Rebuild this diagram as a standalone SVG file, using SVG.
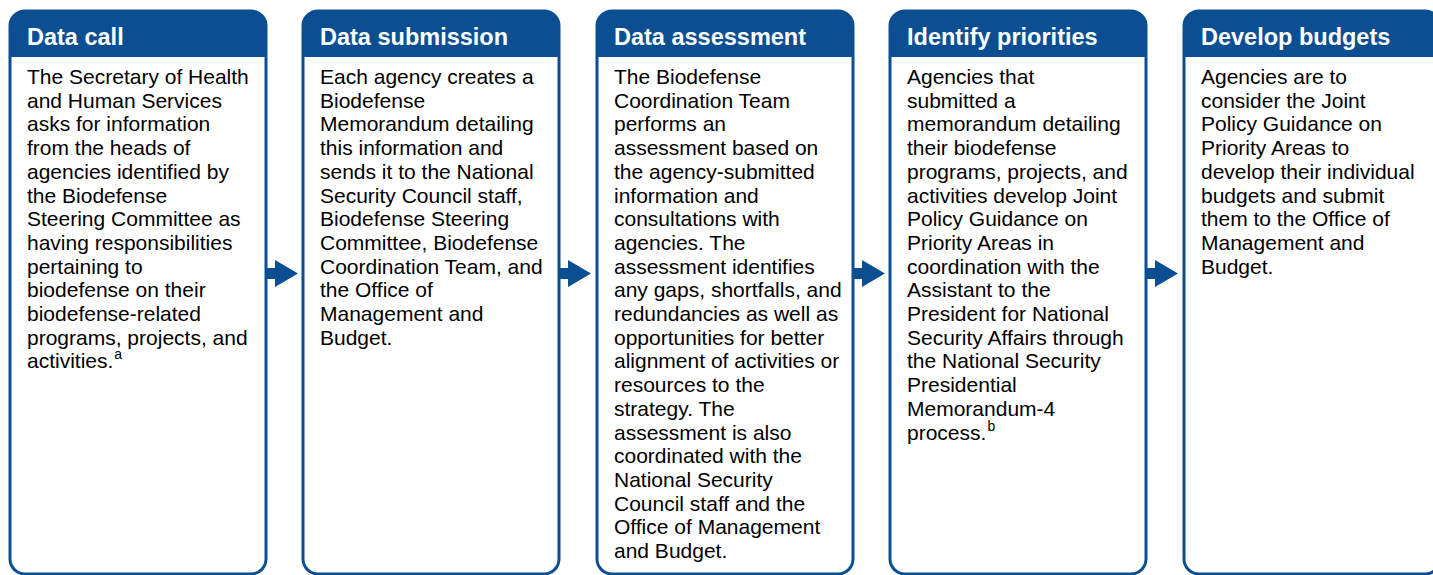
<svg xmlns="http://www.w3.org/2000/svg" width="1433" height="575" viewBox="0 0 1433 575">
<defs>
<style>
.box{fill:#ffffff;stroke:#0b4f92;stroke-width:3}
.hdr{fill:#0b4f92}
.ht{font-family:"Liberation Sans",Arial,sans-serif;font-weight:bold;font-size:23.5px;fill:#ffffff}
.bt{font-family:"Liberation Sans",Arial,sans-serif;font-size:21px;fill:#000000}
.sup{font-size:14px}
.arr{fill:#0b4f92}
</style>
</defs>
<rect width="1433" height="575" fill="#ffffff"/>
<g id="node1">
<rect class="box" x="10" y="11" width="256" height="563" rx="15"/>
<path class="hdr" d="M10,57 V26 A15,15 0 0 1 25,11 H251 A15,15 0 0 1 266,26 V57 Z"/>
<text class="ht" x="27" y="45">Data call</text>
<text class="bt" x="27" y="84"><tspan x="27">The Secretary of Health</tspan><tspan x="27" dy="23.7">and Human Services</tspan><tspan x="27" dy="23.7">asks for information</tspan><tspan x="27" dy="23.7">from the heads of</tspan><tspan x="27" dy="23.7">agencies identified by</tspan><tspan x="27" dy="23.7">the Biodefense</tspan><tspan x="27" dy="23.7">Steering Committee as</tspan><tspan x="27" dy="23.7">having responsibilities</tspan><tspan x="27" dy="23.7">pertaining to</tspan><tspan x="27" dy="23.7">biodefense on their</tspan><tspan x="27" dy="23.7">biodefense-related</tspan><tspan x="27" dy="23.7">programs, projects, and</tspan><tspan x="27" dy="23.7">activities.</tspan><tspan class="sup" dx="1" dy="-9">a</tspan></text>
</g>
<g id="node2">
<rect class="box" x="303" y="11" width="256" height="563" rx="15"/>
<path class="hdr" d="M303,57 V26 A15,15 0 0 1 318,11 H544 A15,15 0 0 1 559,26 V57 Z"/>
<text class="ht" x="320" y="45">Data submission</text>
<text class="bt" x="320" y="84"><tspan x="320">Each agency creates a</tspan><tspan x="320" dy="23.7">Biodefense</tspan><tspan x="320" dy="23.7">Memorandum detailing</tspan><tspan x="320" dy="23.7">this information and</tspan><tspan x="320" dy="23.7">sends it to the National</tspan><tspan x="320" dy="23.7">Security Council staff,</tspan><tspan x="320" dy="23.7">Biodefense Steering</tspan><tspan x="320" dy="23.7">Committee, Biodefense</tspan><tspan x="320" dy="23.7">Coordination Team, and</tspan><tspan x="320" dy="23.7">the Office of</tspan><tspan x="320" dy="23.7">Management and</tspan><tspan x="320" dy="23.7">Budget.</tspan></text>
</g>
<g id="node3">
<rect class="box" x="597" y="11" width="256" height="563" rx="15"/>
<path class="hdr" d="M597,57 V26 A15,15 0 0 1 612,11 H838 A15,15 0 0 1 853,26 V57 Z"/>
<text class="ht" x="614" y="45">Data assessment</text>
<text class="bt" x="614" y="84"><tspan x="614">The Biodefense</tspan><tspan x="614" dy="23.7">Coordination Team</tspan><tspan x="614" dy="23.7">performs an</tspan><tspan x="614" dy="23.7">assessment based on</tspan><tspan x="614" dy="23.7">the agency-submitted</tspan><tspan x="614" dy="23.7">information and</tspan><tspan x="614" dy="23.7">consultations with</tspan><tspan x="614" dy="23.7">agencies. The</tspan><tspan x="614" dy="23.7">assessment identifies</tspan><tspan x="614" dy="23.7">any gaps, shortfalls, and</tspan><tspan x="614" dy="23.7">redundancies as well as</tspan><tspan x="614" dy="23.7">opportunities for better</tspan><tspan x="614" dy="23.7">alignment of activities or</tspan><tspan x="614" dy="23.7">resources to the</tspan><tspan x="614" dy="23.7">strategy. The</tspan><tspan x="614" dy="23.7">assessment is also</tspan><tspan x="614" dy="23.7">coordinated with the</tspan><tspan x="614" dy="23.7">National Security</tspan><tspan x="614" dy="23.7">Council staff and the</tspan><tspan x="614" dy="23.7">Office of Management</tspan><tspan x="614" dy="23.7">and Budget.</tspan></text>
</g>
<g id="node4">
<rect class="box" x="890" y="11" width="256" height="563" rx="15"/>
<path class="hdr" d="M890,57 V26 A15,15 0 0 1 905,11 H1131 A15,15 0 0 1 1146,26 V57 Z"/>
<text class="ht" x="907" y="45">Identify priorities</text>
<text class="bt" x="907" y="84"><tspan x="907">Agencies that</tspan><tspan x="907" dy="23.7">submitted a</tspan><tspan x="907" dy="23.7">memorandum detailing</tspan><tspan x="907" dy="23.7">their biodefense</tspan><tspan x="907" dy="23.7">programs, projects, and</tspan><tspan x="907" dy="23.7">activities develop Joint</tspan><tspan x="907" dy="23.7">Policy Guidance on</tspan><tspan x="907" dy="23.7">Priority Areas in</tspan><tspan x="907" dy="23.7">coordination with the</tspan><tspan x="907" dy="23.7">Assistant to the</tspan><tspan x="907" dy="23.7">President for National</tspan><tspan x="907" dy="23.7">Security Affairs through</tspan><tspan x="907" dy="23.7">the National Security</tspan><tspan x="907" dy="23.7">Presidential</tspan><tspan x="907" dy="23.7">Memorandum-4</tspan><tspan x="907" dy="23.7">process.</tspan><tspan class="sup" dx="1" dy="-9">b</tspan></text>
</g>
<g id="node5">
<rect class="box" x="1184" y="11" width="256" height="563" rx="15"/>
<path class="hdr" d="M1184,57 V26 A15,15 0 0 1 1199,11 H1425 A15,15 0 0 1 1440,26 V57 Z"/>
<text class="ht" x="1201" y="45">Develop budgets</text>
<text class="bt" x="1201" y="84"><tspan x="1201">Agencies are to</tspan><tspan x="1201" dy="23.7">consider the Joint</tspan><tspan x="1201" dy="23.7">Policy Guidance on</tspan><tspan x="1201" dy="23.7">Priority Areas to</tspan><tspan x="1201" dy="23.7">develop their individual</tspan><tspan x="1201" dy="23.7">budgets and submit</tspan><tspan x="1201" dy="23.7">them to the Office of</tspan><tspan x="1201" dy="23.7">Management and</tspan><tspan x="1201" dy="23.7">Budget.</tspan></text>
</g>
<g id="connectors">
<path class="arr" d="M267,268 H275 V260 L298,273.5 L275,287 V279 H267 Z"/>
<path class="arr" d="M560,268 H568 V260 L591,273.5 L568,287 V279 H560 Z"/>
<path class="arr" d="M854,268 H862 V260 L885,273.5 L862,287 V279 H854 Z"/>
<path class="arr" d="M1147,268 H1155 V260 L1178,273.5 L1155,287 V279 H1147 Z"/>
</g>
</svg>
